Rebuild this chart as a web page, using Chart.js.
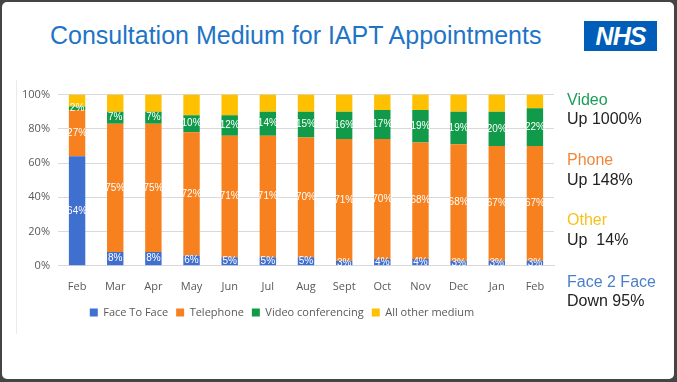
<!DOCTYPE html>
<html><head><meta charset="utf-8">
<script src="https://cdn.jsdelivr.net/npm/chart.js@4"></script>
<style>
html,body{margin:0;padding:0;}
body{width:677px;height:382px;position:relative;overflow:hidden;background:#444;font-family:"Liberation Sans",Arial,sans-serif;}
#frame{position:absolute;left:2px;top:2px;width:672px;height:377px;background:#fff;border-radius:5px;}
#title{position:absolute;left:50px;top:21px;font-size:25px;color:#1f74c5;white-space:nowrap;}
#nhs{position:absolute;left:584px;top:21px;width:73px;height:30px;background:#005eb8;color:#fff;font-weight:bold;font-style:italic;font-size:25px;line-height:30px;text-align:center;letter-spacing:-1px;}
#wrap{position:absolute;left:10px;top:80px;width:580px;height:252px;}
#vline{position:absolute;left:16px;top:80px;width:1px;height:254px;background:#eaeaea;}
.note{position:absolute;left:567px;font-size:16px;white-space:pre;line-height:18px;}
</style></head><body>
<div id="frame"></div>
<div id="vline"></div>
<div id="title">Consultation Medium for IAPT Appointments</div>
<div id="nhs">NHS</div>
<div id="wrap"><canvas id="c"></canvas></div>
<div class="note" style="top:91px;color:#1a9e57">Video</div>
<div class="note" style="top:110px;color:#222">Up 1000%</div>
<div class="note" style="top:151px;color:#f0873a">Phone</div>
<div class="note" style="top:171px;color:#222">Up 148%</div>
<div class="note" style="top:211px;color:#f6c21a">Other</div>
<div class="note" style="top:231px;color:#222">Up  14%</div>
<div class="note" style="top:273px;color:#4b80c8">Face 2 Face</div>
<div class="note" style="top:292px;color:#222">Down 95%</div>
<script>
const months = ["Feb","Mar","Apr","May","Jun","Jul","Aug","Sept","Oct","Nov","Dec","Jan","Feb"];
const faceToFace = [64,8,8,6,5,5,5,3,4,4,3,3,3];
const telephone = [27,75,75,72,71,71,70,71,70,68,68,67,67];
const video = [2,7,7,10,12,14,15,16,17,19,19,20,22];
const otherMedium = [7,10,10,12,12,10,10,10,9,9,10,10,8];
const yTicks = [0,20,40,60,80,100];

const labelPlugin = {
  id:'segLabels',
  afterDatasetsDraw(chart){
    const ctx = chart.ctx;
    ctx.save();
    ctx.font = '10px "Liberation Sans", Arial, sans-serif';
    ctx.fillStyle = '#fff';
    ctx.textAlign = 'center';
    ctx.textBaseline = 'middle';
    chart.data.datasets.forEach((ds,i)=>{
      if(!ds.showLabel) return;
      chart.getDatasetMeta(i).data.forEach((el,j)=>{
        const p = el.getProps(['x','y','base'],true);
        ctx.fillText(ds.data[j]+'%', p.x, (p.y+p.base)/2);
      });
    });
    ctx.restore();
  }
};

new Chart(document.getElementById('c'),{
  type:'bar',
  data:{
    labels: months,
    datasets:[
      {label:'Face To Face', data:faceToFace, backgroundColor:'#3f6fcf', showLabel:true},
      {label:'Telephone', data:telephone, backgroundColor:'#f7811f', showLabel:true},
      {label:'Video conferencing', data:video, backgroundColor:'#109a49', showLabel:true},
      {label:'All other medium', data:otherMedium, backgroundColor:'#ffc000', showLabel:false}
    ]
  },
  options:{
    responsive:true, maintainAspectRatio:false, animation:false,
    layout:{padding:{left:0,right:36,top:10,bottom:4}},
    datasets:{bar:{barPercentage:0.86,categoryPercentage:0.5,borderWidth:0}},
    plugins:{
      tooltip:{enabled:false},
      legend:{position:'bottom',labels:{boxWidth:8,boxHeight:8,padding:8,color:'#595959',font:{size:11,family:'"Open Sans", sans-serif'}}}
    },
    scales:{
      x:{stacked:true,grid:{display:false},border:{color:'#d9d9d9'},ticks:{color:'#595959',font:{size:11,family:'"Open Sans", sans-serif'},padding:6}},
      y:{stacked:true,min:0,max:100,
         afterBuildTicks(s){s.ticks=yTicks.map(v=>({value:v}));},
         afterFit(s){s.width=48;},
         grid:{color:'#d9d9d9',drawTicks:false},border:{display:false},
         ticks:{color:'#595959',padding:8,font:{size:11,family:'"Open Sans", sans-serif'},callback:v=>v+'%'}}
    }
  },
  plugins:[labelPlugin]
});
</script>
</body></html>
